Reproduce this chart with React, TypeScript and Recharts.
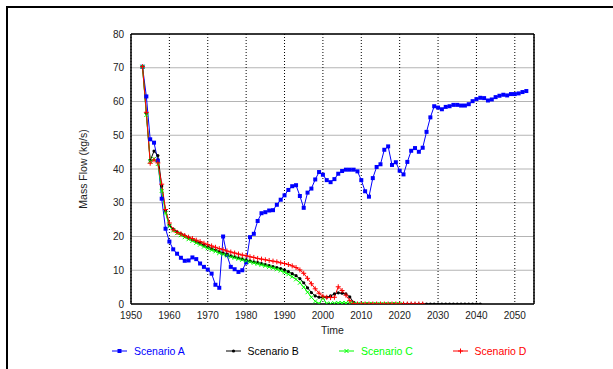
import React from 'react';
import { LineChart, Line, XAxis, YAxis, CartesianGrid, Label } from 'recharts';

const years = [
  1953, 1954, 1955, 1956, 1957, 1958, 1959, 1960, 1961, 1962, 1963, 1964, 1965, 1966, 1967, 1968, 1969,
  1970, 1971, 1972, 1973, 1974, 1975, 1976, 1977, 1978, 1979, 1980, 1981, 1982, 1983, 1984, 1985, 1986,
  1987, 1988, 1989, 1990, 1991, 1992, 1993, 1994, 1995, 1996, 1997, 1998, 1999, 2000, 2001, 2002, 2003,
  2004, 2005, 2006, 2007, 2008, 2009, 2010, 2011, 2012, 2013, 2014, 2015, 2016, 2017, 2018, 2019, 2020,
  2021, 2022, 2023, 2024, 2025, 2026, 2027, 2028, 2029, 2030, 2031, 2032, 2033, 2034, 2035, 2036, 2037,
  2038, 2039, 2040, 2041, 2042, 2043, 2044, 2045, 2046, 2047, 2048, 2049, 2050, 2051, 2052, 2053,
];

const scenarioA = [
  70.3, 61.5, 48.8, 47.8, 42.5, 31.2, 22.3, 18.5, 16.2, 14.9, 13.7, 12.8, 12.9, 13.8, 13.3, 12.0, 11.0,
  10.2, 9.0, 5.7, 4.8, 20.0, 14.5, 11.0, 10.3, 9.5, 10.0, 12.3, 19.8, 20.8, 24.6, 26.9, 27.2, 27.7,
  27.8, 29.4, 30.9, 32.2, 33.8, 34.9, 35.2, 32.0, 28.5, 33.0, 34.2, 36.9, 39.1, 38.3, 36.7, 36.1, 37.0,
  38.6, 39.4, 39.8, 39.8, 39.8, 39.3, 36.7, 33.4, 31.8, 37.3, 40.6, 41.4, 45.7, 46.7, 41.2, 42.0, 39.5,
  38.4, 42.1, 45.4, 46.2, 45.1, 46.3, 51.0, 55.3, 58.6, 58.2, 57.7, 58.4, 58.6, 59.0, 59.0, 58.8, 58.8,
  59.2, 60.1, 60.7, 61.1, 61.0, 60.3, 60.6, 61.3, 61.7, 62.0, 61.8, 62.2, 62.2, 62.4, 62.8, 63.1,
];

const scenarioB = [
  70.3, 56.5, 42.5, 45.3, 44.0, 35.0, 27.5, 23.3, 22.2, 21.4, 20.8, 20.2, 19.6, 19.1, 18.5, 18.0, 17.4,
  16.9, 16.4, 16.0, 15.5, 15.1, 14.7, 14.3, 14.0, 13.7, 13.4, 13.1, 12.8, 12.5, 12.3, 12.0, 11.7, 11.4,
  11.1, 10.8, 10.5, 10.1, 9.6, 9.0, 8.4, 7.5, 6.3, 4.8, 3.4, 2.4, 2.0, 1.9, 2.0, 2.4, 3.0,
  3.3, 3.2, 3.0, 2.1, 0.5, 0, 0, 0, 0, 0, 0, 0, 0, 0, 0, 0, 0,
  0, 0, 0, 0, 0, 0, 0, 0, 0, 0, 0, 0, 0, 0, 0, 0, 0,
  0, 0, 0, 0,
];

const scenarioC = [
  70.3, 56.0, 42.3, 43.0, 41.5, 33.5, 27.0, 23.0, 21.8, 21.0, 20.4, 19.8, 19.2, 18.7, 18.1, 17.6, 17.0,
  16.5, 16.0, 15.6, 15.1, 14.7, 14.4, 14.0, 13.7, 13.4, 13.1, 12.8, 12.5, 12.2, 11.9, 11.6, 11.3, 11.0,
  10.7, 10.3, 9.9, 9.4, 8.8, 8.1, 7.3, 6.3, 5.0, 3.5, 2.0, 0.8, 0.1, 1.8, 0.1, 0.1, 0.2,
  0.3, 0.3, 0.3, 0.2, 0.1, 0, 0, 0, 0, 0, 0, 0, 0, 0, 0, 0, 0,
];

const scenarioD = [
  70.3, 56.8, 41.7, 42.7, 41.8, 35.5, 28.0, 24.0, 22.0, 21.2, 20.8, 20.3, 19.8, 19.4, 18.9, 18.5, 18.0,
  17.6, 17.2, 16.8, 16.4, 16.1, 15.7, 15.4, 15.1, 14.8, 14.5, 14.3, 14.0, 13.8, 13.5, 13.3, 13.1, 12.9,
  12.7, 12.5, 12.2, 12.0, 11.7, 11.3, 10.8, 10.1, 9.1, 7.6, 6.0, 4.5, 3.2, 2.3, 2.0, 1.9, 2.0,
  5.1, 4.0, 2.6, 1.0, 0.1, 0, 0, 0, 0, 0, 0, 0, 0, 0, 0, 0, 0,
  0, 0, 0, 0, 0, 0,
];

const seriesKeys = ['a', 'b', 'c', 'd'];
const seriesNames = ['Scenario A', 'Scenario B', 'Scenario C', 'Scenario D'];
const seriesColors = ['#0000ff', '#000000', '#00ff00', '#ff0000'];
const markerKinds = ['square', 'circle', 'cross', 'plus'];

const xTicks = [1950, 1960, 1970, 1980, 1990, 2000, 2010, 2020, 2030, 2040, 2050];
const yTicks = [0, 10, 20, 30, 40, 50, 60, 70, 80];

const data = years.map((year, i) => ({
  year,
  a: scenarioA[i],
  b: scenarioB[i],
  c: scenarioC[i],
  d: scenarioD[i],
}));

const FONT = '"Liberation Sans", Arial, Helvetica, sans-serif';

function Marker({ kind, cx, cy, color }: { kind: string; cx: number; cy: number; color: string }) {
  if (kind === 'square') {
    return <rect x={cx - 2} y={cy - 2} width={4} height={4} fill={color} />;
  }
  if (kind === 'circle') {
    return <circle cx={cx} cy={cy} r={1.6} fill={color} />;
  }
  if (kind === 'cross') {
    return (
      <path
        d={`M${cx - 2},${cy - 2}L${cx + 2},${cy + 2}M${cx - 2},${cy + 2}L${cx + 2},${cy - 2}`}
        stroke={color}
        strokeWidth={1}
        fill="none"
      />
    );
  }
  return (
    <path
      d={`M${cx - 2.5},${cy}L${cx + 2.5},${cy}M${cx},${cy - 2.5}L${cx},${cy + 2.5}`}
      stroke={color}
      strokeWidth={1}
      fill="none"
    />
  );
}

function makeDot(kind: string, color: string) {
  return (props: any) => {
    const { cx, cy, index } = props;
    if (cx == null || cy == null || Number.isNaN(cx) || Number.isNaN(cy)) {
      return <g key={`e-${index}`} />;
    }
    return (
      <g key={`m-${index}`}>
        <Marker kind={kind} cx={cx} cy={cy} color={color} />
      </g>
    );
  };
}

const YLabel = (props: any) => {
  const vb = props.viewBox || { x: 0, y: 0, width: 131, height: 270 };
  const cx = vb.x + vb.width - 48;
  const cy = vb.y + vb.height / 2;
  return (
    <text
      x={cx}
      y={cy}
      transform={`rotate(-90 ${cx} ${cy})`}
      textAnchor="middle"
      dominantBaseline="central"
      fontSize={10.5}
      fontFamily={FONT}
      fill="#222"
    >
      Mass Flow (kg/s)
    </text>
  );
};

export default function App() {
  return (
    <div style={{ position: 'absolute', left: 0, top: 0, width: 613, height: 369, background: '#fff', overflow: 'hidden' }}>
      <div
        style={{
          position: 'absolute',
          left: 6,
          top: 6,
          width: 640,
          height: 400,
          borderLeft: '2px solid #000',
          borderTop: '2px solid #000',
        }}
      />
      <div style={{ position: 'absolute', left: 0, top: 0 }}>
        <LineChart
          width={613}
          height={369}
          data={data}
          margin={{ top: 34, right: 79, bottom: 35, left: 0 }}
          style={{ fontFamily: FONT }}
        >
          <CartesianGrid horizontal vertical={false} stroke="#b4b4b4" strokeWidth={1.2} />
          <CartesianGrid horizontal={false} vertical stroke="#000" strokeDasharray="1 2" strokeWidth={1} />
          <XAxis
            dataKey="year"
            type="number"
            domain={[1950, 2055]}
            ticks={xTicks}
            allowDataOverflow
            interval={0}
            height={30}
            axisLine={{ stroke: '#000', strokeWidth: 1.5 }}
            tickLine={false}
            tickSize={8}
            tickMargin={0}
            tick={{ fill: '#222', fontSize: 10, fontFamily: FONT }}
          >
            <Label value="Time" position="insideBottom" offset={0} fill="#222" fontSize={10.5} fontFamily={FONT} />
          </XAxis>
          <XAxis
            xAxisId="bottomTicks"
            dataKey="year"
            type="number"
            domain={[1950, 2055]}
            ticks={xTicks}
            allowDataOverflow
            orientation="bottom"
            mirror
            tick={false}
            tickLine={{ stroke: '#000' }}
            tickSize={5}
            axisLine={false}
          />
          <XAxis
            xAxisId="top"
            dataKey="year"
            type="number"
            domain={[1950, 2055]}
            ticks={xTicks}
            allowDataOverflow
            orientation="top"
            mirror
            tick={false}
            tickLine={{ stroke: '#000' }}
            tickSize={5}
            axisLine={{ stroke: '#000', strokeWidth: 1.5 }}
          />
          <YAxis
            type="number"
            domain={[0, 80]}
            ticks={yTicks}
            allowDataOverflow
            interval={0}
            width={131}
            axisLine={{ stroke: '#000', strokeWidth: 1.5 }}
            tickLine={false}
            tickSize={7}
            tickMargin={0}
            tick={{ fill: '#222', fontSize: 10, fontFamily: FONT }}
          >
            <Label content={YLabel} />
          </YAxis>
          <YAxis
            yAxisId="leftTicks"
            type="number"
            domain={[0, 80]}
            ticks={yTicks}
            allowDataOverflow
            orientation="left"
            mirror
            tick={false}
            tickLine={{ stroke: '#000' }}
            tickSize={5}
            axisLine={false}
          />
          <YAxis
            yAxisId="right"
            type="number"
            domain={[0, 80]}
            ticks={yTicks}
            allowDataOverflow
            orientation="right"
            mirror
            tick={false}
            tickLine={{ stroke: '#000' }}
            tickSize={5}
            axisLine={{ stroke: '#000', strokeWidth: 1.5 }}
          />
          {seriesKeys.map((key, i) => (
            <Line
              key={key}
              dataKey={key}
              name={seriesNames[i]}
              type="linear"
              stroke={seriesColors[i]}
              strokeWidth={1}
              dot={makeDot(markerKinds[i], seriesColors[i])}
              activeDot={false}
              isAnimationActive={false}
              connectNulls={false}
            />
          ))}
        </LineChart>
      </div>
      <div
        style={{
          position: 'absolute',
          left: 112,
          top: 343,
          display: 'flex',
          fontFamily: FONT,
          fontSize: 10.5,
        }}
      >
        {seriesNames.map((name, i) => (
          <div key={name} style={{ width: 113.5, display: 'flex', alignItems: 'center', height: 16 }}>
            <svg width={22} height={16} style={{ flex: 'none' }}>
              <line x1={0} y1={8} x2={15} y2={8} stroke={seriesColors[i]} strokeWidth={1} />
              <Marker kind={markerKinds[i]} cx={7.5} cy={8} color={seriesColors[i]} />
            </svg>
            <span style={{ color: seriesColors[i], whiteSpace: 'nowrap' }}>{name}</span>
          </div>
        ))}
      </div>
    </div>
  );
}
